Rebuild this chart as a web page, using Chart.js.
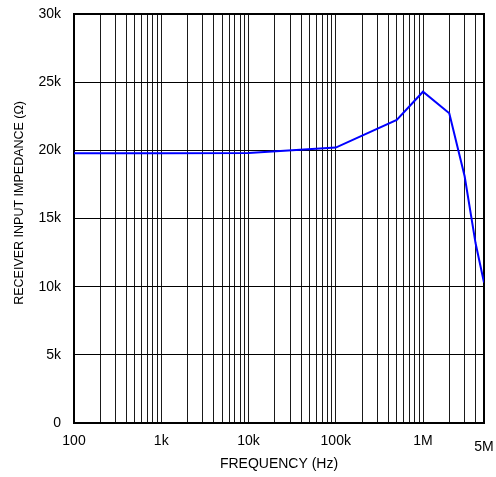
<!DOCTYPE html>
<html><head><meta charset="utf-8">
<script src="https://cdn.jsdelivr.net/npm/chart.js@4/dist/chart.umd.min.js"></script>
<style>html,body{margin:0;padding:0;background:#fff}#wrap{width:496px;height:477px}</style>
</head><body><div id="wrap"><canvas id="c"></canvas></div>
<script>
// Data
const frequencyHz = [100, 1000, 10000, 100000, 500000, 1000000, 2000000, 3000000, 4000000, 5000000];
const impedanceOhm = [19780, 19780, 19800, 20200, 22230, 24300, 22720, 18100, 13200, 10300];

// X grid lines (log decades with minor lines)
const xGridTicks = [
  100,200,300,400,500,600,700,800,900,
  1000,2000,3000,4000,5000,6000,7000,8000,9000,
  10000,20000,30000,40000,50000,60000,70000,80000,90000,
  100000,200000,300000,400000,500000,600000,700000,800000,900000,
  1000000,2000000,3000000,4000000,5000000
];
const xLabelValues = [100, 1000, 10000, 100000, 1000000, 5000000];
const xLabelTexts = ['100', '1k', '10k', '100k', '1M', '5M'];
const yTickValues = [0, 5000, 10000, 15000, 20000, 25000, 30000];
const yTickLabels = ['0', '5k', '10k', '15k', '20k', '25k', '30k'];

const FONT = "'Liberation Sans', Arial, sans-serif";
Chart.defaults.font.family = FONT;
Chart.defaults.color = '#000';

const framePlugin = {
  id: 'frame',
  beforeDatasetsDraw(chart) {
    const {ctx, chartArea: a} = chart;
    ctx.save();
    ctx.strokeStyle = '#000';
    ctx.lineWidth = 2;
    ctx.strokeRect(a.left, a.top, a.right - a.left, a.bottom - a.top);
    ctx.restore();
  }
};

new Chart(document.getElementById('c'), {
  type: 'line',
  data: {
    datasets: [{
      data: frequencyHz.map((f, i) => ({x: f, y: impedanceOhm[i]})),
      borderColor: '#0000ff',
      borderWidth: 2,
      pointRadius: 0,
      tension: 0,
      fill: false
    }]
  },
  options: {
    responsive: true,
    maintainAspectRatio: false,
    animation: false,
    layout: {padding: {top: 14, right: 12, bottom: 0, left: 0}},
    plugins: {legend: {display: false}, tooltip: {enabled: false}},
    scales: {
      x: {
        type: 'logarithmic',
        min: 100,
        max: 5000000,
        afterBuildTicks(scale) { scale.ticks = xGridTicks.map(v => ({value: v})); },
        afterFit(scale) { scale.height = 54; scale.paddingLeft = 0; scale.paddingRight = 0; },
        grid: {color: '#1a1a1a', lineWidth: 1, drawTicks: false},
        border: {display: false},
        ticks: {
          autoSkip: false,
          maxRotation: 0,
          minRotation: 0,
          padding: 10,
          color: '#000',
          font: (ctx) => ({family: FONT, size: 14, lineHeight: (ctx.tick && ctx.tick.value === 5000000) ? '28px' : 1.2}),
          callback: (v) => { const i = xLabelValues.indexOf(v); return i >= 0 ? xLabelTexts[i] : ''; }
        },
        title: {
          display: true,
          text: 'FREQUENCY (Hz)',
          color: '#000',
          font: {family: FONT, size: 14},
          padding: {top: 0, bottom: 4}
        }
      },
      y: {
        min: 0,
        max: 30000,
        afterBuildTicks(scale) { scale.ticks = yTickValues.map(v => ({value: v})); },
        afterFit(scale) { scale.width = 74; scale.paddingTop = 0; scale.paddingBottom = 0; },
        grid: {color: '#000', lineWidth: 1, drawTicks: false},
        border: {display: false},
        ticks: {
          padding: 13,
          color: '#000',
          font: {family: FONT, size: 14},
          callback: (v) => { const i = yTickValues.indexOf(v); return i >= 0 ? yTickLabels[i] : ''; }
        },
        title: {
          display: true,
          text: '         RECEIVER INPUT IMPEDANCE (Ω)',
          color: '#000',
          font: {family: FONT, size: 12.5},
          padding: {top: 12, bottom: 0}
        }
      }
    }
  },
  plugins: [framePlugin]
});
</script>
</body></html>
